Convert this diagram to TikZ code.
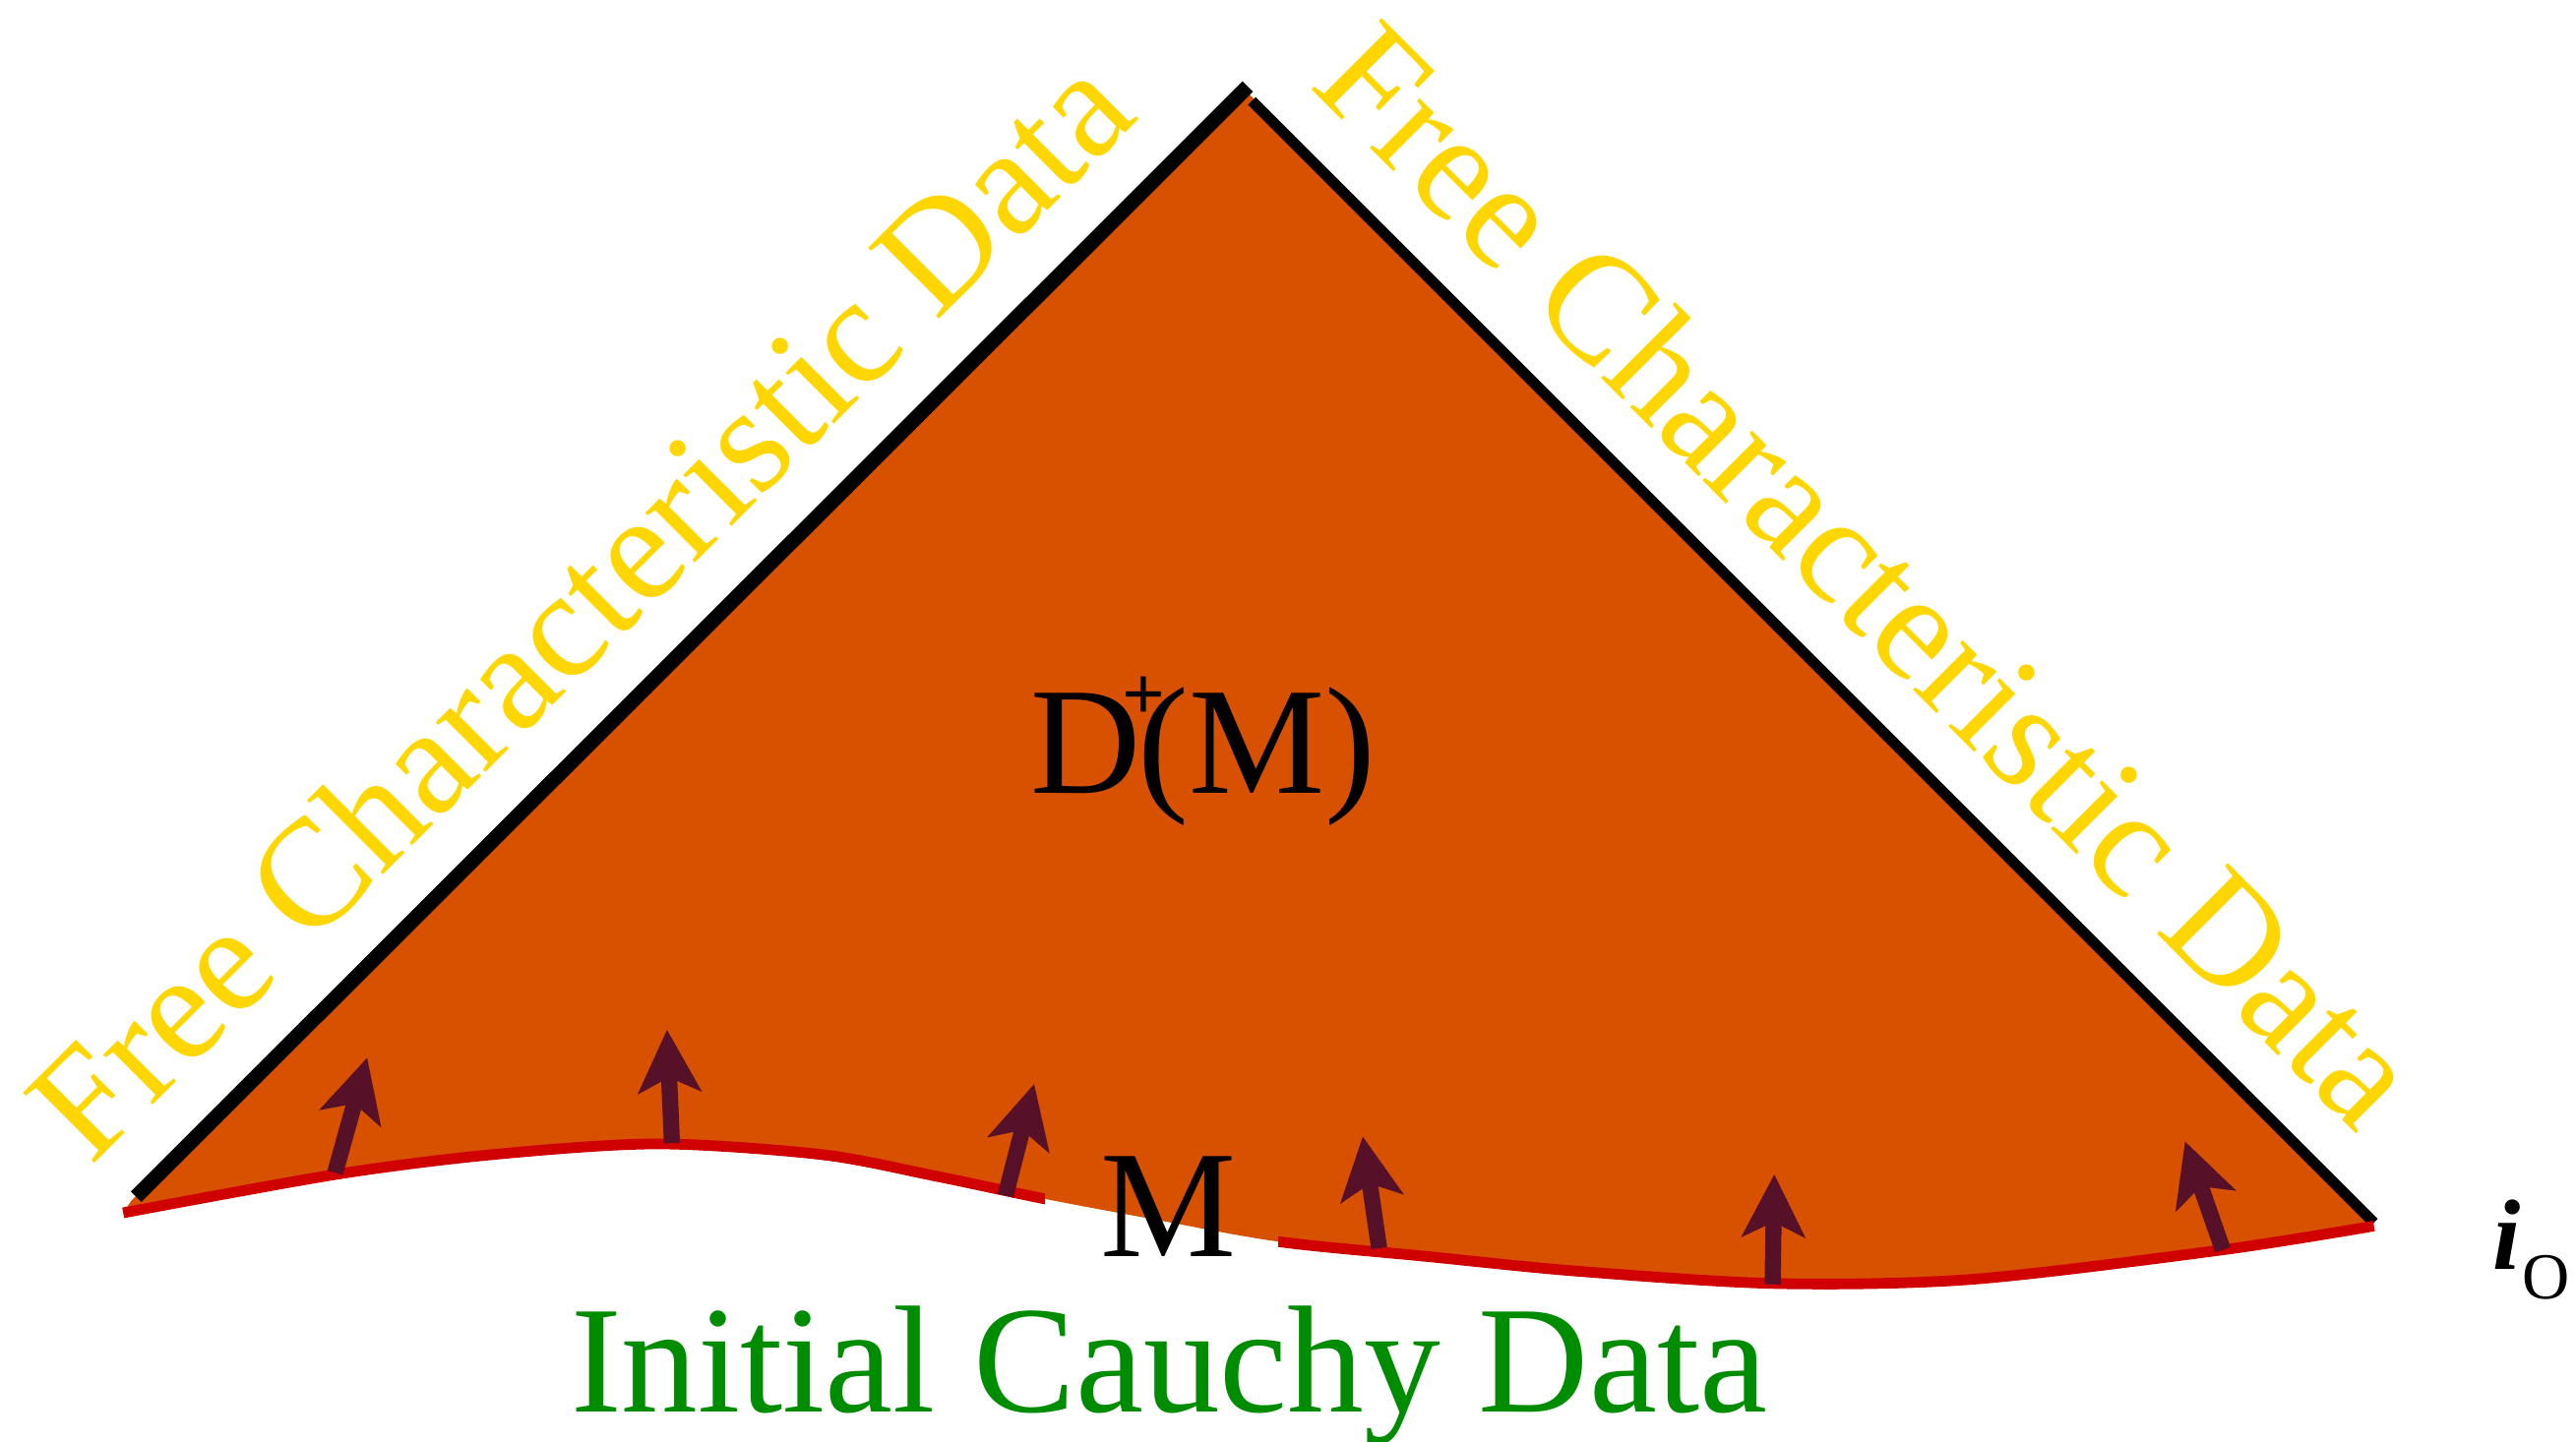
\documentclass[tikz,border=0pt]{standalone}
\usepackage{fontspec}
\setmainfont{Liberation Serif}
\usetikzlibrary{arrows.meta}

\definecolor{regionfill}{RGB}{215,81,0}
\definecolor{cauchyred}{RGB}{208,0,0}
\definecolor{normalarrow}{RGB}{86,16,40}
\definecolor{nullyellow}{RGB}{255,214,0}
\definecolor{cauchygreen}{RGB}{0,140,0}

\begin{document}
\begin{tikzpicture}[x=1pt,y=-1pt,
  bigtext/.style={font=\fontsize{93pt}{93pt}\selectfont, inner sep=0pt},
  nullline/.style={draw=black, line cap=butt},
  cauchyline/.style={draw=cauchyred, line width=6.5pt, line cap=butt},
  normalvec/.style={draw=normalarrow, line width=9.8pt, line cap=butt,
    -{Stealth[length=38pt,width=38pt,inset=9pt]}}]

\useasboundingbox (0,0) rectangle (1568,878);

% future domain of dependence
\fill[regionfill] (760,57) -- (80,731) -- plot[smooth] coordinates {(75,738.5) (205,715) (300,703) (400,696.5) (500,703) (569,716) (636,730) (700,742) (778,756) (868,765) (960,774) (1080,781.5) (1200,779) (1353,761) (1445,746.5)} -- cycle;

% null boundaries
\coordinate (lbot) at (82.8,728.7);
\coordinate (ltop) at (759.5,52.7);
\coordinate (rtop) at (762,61.5);
\coordinate (rbot) at (1445,744.5);
\draw[nullline, line width=9pt] (lbot) -- (ltop);
\draw[nullline, line width=6.5pt] (rtop) -- (rbot);

% Cauchy surface M, interrupted under its label
\begin{scope}
  \clip (0,0) rectangle (636,878);
  \draw[cauchyline] plot[smooth] coordinates {(75,738.5) (205,715) (300,703) (400,696.5) (500,703) (569,716) (636,730) (700,742) (778,756) (868,765) (960,774) (1080,781.5) (1200,779) (1353,761) (1445,746.5)};
\end{scope}
\begin{scope}
  \clip (778,0) rectangle (1568,878);
  \draw[cauchyline] plot[smooth] coordinates {(75,738.5) (205,715) (300,703) (400,696.5) (500,703) (569,716) (636,730) (700,742) (778,756) (868,765) (960,774) (1080,781.5) (1200,779) (1353,761) (1445,746.5)};
\end{scope}

% normals to the Cauchy surface
\coordinate (n1a) at (204,714);   \coordinate (n1b) at (223.5,644);
\coordinate (n2a) at (409,696);   \coordinate (n2b) at (406,627);
\coordinate (n3a) at (612,728);   \coordinate (n3b) at (629.5,660);
\coordinate (n4a) at (839.5,760); \coordinate (n4b) at (829.5,692);
\coordinate (n5a) at (1079,782);  \coordinate (n5b) at (1080,715);
\coordinate (n6a) at (1353,761);  \coordinate (n6b) at (1330,695);
\draw[normalvec] (n1a) -- (n1b);
\draw[normalvec] (n2a) -- (n2b);
\draw[normalvec] (n3a) -- (n3b);
\draw[normalvec] (n4a) -- (n4b);
\draw[normalvec] (n5a) -- (n5b);
\draw[normalvec] (n6a) -- (n6b);

% labels
\node[bigtext, text=nullyellow, rotate=45, anchor=base west] (freeL) at (55,711) {Free Characteristic Data};
\node[bigtext, text=nullyellow, rotate=-45, anchor=base west] (freeR) at (796,52) {Free Characteristic Data};
\node[bigtext, anchor=base west] (dplus) at (627,483)
  {D\kern-11pt\raisebox{45pt}{\fontsize{46pt}{46pt}\bfseries\selectfont +}\kern-17pt(M)};
\node[bigtext, anchor=base] (mlabel) at (711,765) {M};
\node[bigtext, text=cauchygreen, anchor=base] (cauchy) at (711.5,860) {Initial Cauchy Data};
\node[inner sep=0pt, anchor=base west] (izero) at (1517,773)
  {\fontsize{61pt}{61pt}\selectfont\bfseries\itshape i\kern1pt\raisebox{-18pt}{\fontsize{40pt}{40pt}\mdseries\upshape\selectfont O}};
\end{tikzpicture}
\end{document}
